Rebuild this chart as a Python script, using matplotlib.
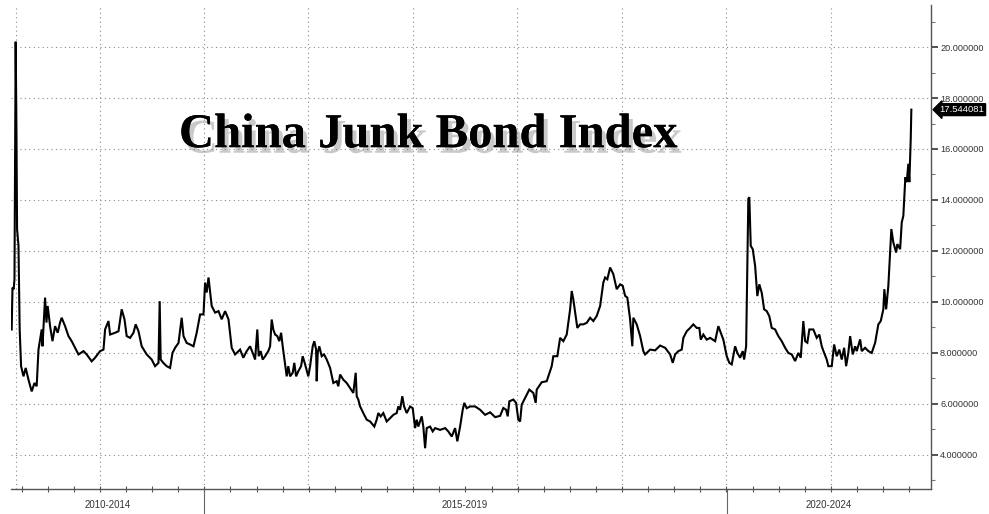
import matplotlib
matplotlib.use("Agg")
import matplotlib.pyplot as plt
import matplotlib.patheffects as pe
import matplotlib.transforms as mtransforms
import numpy as np

# Index level; x is weeks since the start of the series
weeks = [
    0.0, 0.4, 1.0, 1.4, 2.0, 2.4, 2.7, 3.4, 4.0, 4.7, 5.9, 7.0, 8.4, 10.0, 11.4, 12.5,
    13.4, 15.0, 15.4, 16.7, 17.4, 18.0, 19.2, 20.4, 21.7, 23.0, 24.2, 25.0, 26.7, 28.4,
    30.0, 31.7, 33.4, 35.9, 37.5, 40.0, 41.7, 44.2, 45.9, 46.7, 48.4, 49.2, 51.7, 53.4,
    55.0, 56.4, 57.5, 59.2, 60.9, 62.0, 63.4, 65.0, 67.5, 70.0, 71.7, 73.4, 74.0, 74.5,
    75.8, 77.5, 79.2, 80.4, 81.7, 83.4, 85.0, 85.9, 87.5, 89.2, 90.9, 92.5, 94.2, 95.9,
    96.7, 97.5, 98.4, 100.0, 101.7, 103.4, 105.0, 106.7, 108.4, 110.0, 111.7, 113.4,
    114.2, 115.8, 117.5, 119.2, 120.8, 121.7, 122.8, 123.5, 124.5, 125.5, 126.7, 128.3,
    129.2, 130.0, 130.8, 131.7, 132.8, 133.8, 134.7, 135.5, 136.7, 137.5, 138.3, 139.2,
    140.5, 141.3, 142.2, 143.3, 144.7, 145.5, 146.7, 148.3, 149.2, 150.5, 151.3, 152.2,
    152.5, 153.0, 153.8, 155.0, 156.2, 157.5, 159.2, 160.8, 162.5, 163.3, 164.2, 165.8,
    167.5, 169.2, 170.8, 172.0, 172.5, 173.3, 174.2, 175.8, 177.5, 179.2, 181.3, 182.5,
    183.3, 184.5, 185.8, 187.5, 189.2, 190.8, 192.5, 193.3, 194.2, 195.3, 196.2, 197.5,
    199.2, 200.5, 201.7, 202.5, 203.3, 205.0, 205.8, 206.7, 207.5, 209.2, 210.5, 211.7,
    214.2, 216.7, 218.3, 220.0, 221.7, 222.8, 224.2, 225.5, 226.3, 227.5,
    229.2, 231.7, 234.2, 236.7, 239.2, 241.7, 244.2, 245.8, 247.2, 248.0, 248.8, 250.8,
    252.2, 253.3, 254.2, 255.0, 256.7, 258.8, 260.8, 262.0, 262.5, 265.0, 267.5, 270.0,
    270.8, 272.8, 274.2, 275.8, 277.5, 279.2, 280.0, 280.8, 282.2, 282.8, 284.2, 285.8,
    287.5, 289.2, 290.8, 292.5, 294.2, 295.8, 296.7, 297.8, 299.2, 300.8, 302.5, 304.2,
    305.5, 306.7, 307.8, 309.2, 310.3, 310.8, 312.5, 314.2, 315.8, 316.7, 319.2, 321.7,
    324.2, 326.7, 329.2, 330.5, 331.7, 333.3, 335.0, 335.8, 337.5, 339.2, 340.8, 342.5,
    343.8, 344.5, 345.8, 347.5, 349.2, 351.7, 353.3, 354.5, 355.8,
    357.5, 358.8, 360.0, 361.7, 362.8, 364.2, 365.5, 366.2, 367.2, 368.3, 368.8, 369.5,
    370.5, 371.7, 372.8, 373.8, 375.0, 376.2, 377.5, 378.8, 380.0, 381.7, 383.3, 385.0,
    386.7, 388.3, 390.0, 391.7, 393.3, 394.5, 395.8, 396.7, 397.8, 398.8, 400.8, 402.5,
    403.8, 405.0, 406.2, 407.5, 408.3, 410.0, 411.2, 412.5, 413.8, 415.0, 416.2, 417.2,
    418.3, 419.2, 420.5, 421.7, 422.5, 424.2, 425.0, 426.7, 428.3, 430.0, 431.7, 433.3,
    434.5, 435.8, 436.3, 437.2, 438.3, 439.2, 439.8, 440.8, 442.2, 442.8, 444.2, 445.0,
    445.8, 446.8, 447.5, 448.3, 448.8, 449.5, 449.8,
]
index_level = [
    8.92, 10.56, 10.50, 10.89, 20.21, 16.53, 12.86, 12.20, 8.92, 7.48, 7.08, 7.41, 6.95, 6.49, 6.82, 6.69,
    8.13, 8.92, 8.26, 10.17, 9.19, 9.84, 9.05, 8.46, 9.05, 8.79, 9.19, 9.38, 9.05, 8.66,
    8.46, 8.20, 7.94, 8.07, 7.94, 7.67, 7.81, 8.07, 8.13, 8.92, 9.25, 8.72, 8.79, 8.85,
    9.71, 9.32, 8.66, 8.59, 8.79, 9.12, 8.85, 8.26, 7.94, 7.74, 7.48, 7.61, 10.03, 7.74,
    7.61, 7.48, 7.41, 8.00, 8.20, 8.39, 9.38, 8.66, 8.39, 8.33, 8.26, 8.79, 9.51, 9.51,
    10.76, 10.37, 10.96, 9.84, 9.58, 9.64, 9.32, 9.64, 9.32, 8.20, 7.94, 8.07,
    8.13, 7.81, 8.07, 8.26, 7.94, 7.74, 8.92, 7.87, 8.07, 7.74, 7.87, 8.07,
    8.26, 9.31, 8.92, 8.72, 8.66, 8.46, 8.79, 8.26, 7.55, 7.08, 7.48, 7.08,
    7.22, 7.61, 7.08, 7.28, 7.48, 7.87, 7.55, 7.08, 7.48, 8.26, 8.46, 8.13,
    6.89, 8.00, 8.26, 7.87, 7.94, 7.74, 7.41, 6.82, 6.89, 6.69, 7.15, 6.95,
    6.82, 6.62, 6.43, 7.22, 6.30, 6.17, 5.90, 5.64, 5.38, 5.31, 5.11, 5.38,
    5.64, 5.51, 5.64, 5.31, 5.44, 5.57, 5.64, 5.90, 5.77, 6.30, 5.90, 5.64,
    5.90, 5.83, 5.05, 5.38, 5.11, 5.51, 5.11, 4.26, 5.05, 5.11, 4.92, 5.05,
    4.98, 5.05, 4.92, 4.72, 5.05, 4.53, 5.11, 5.77, 6.04, 5.83,
    5.90, 5.90, 5.77, 5.57, 5.67, 5.48, 5.53, 5.84, 5.77, 5.51, 6.10, 6.17,
    6.04, 5.38, 5.31, 5.97, 6.23, 6.56, 6.43, 6.04, 6.56, 6.85, 6.89, 7.48,
    7.87, 7.87, 8.59, 8.46, 8.72, 9.71, 10.43, 10.10, 9.31, 8.98, 9.12, 9.12,
    9.18, 9.38, 9.25, 9.45, 9.84, 10.76, 10.96, 10.89, 11.35, 11.09, 10.50, 10.69,
    10.63, 10.24, 10.17, 9.31, 8.26, 9.38, 9.12, 8.66, 8.07, 7.94, 8.13, 8.10,
    8.29, 8.20, 7.94, 7.61, 7.94, 8.07, 8.13, 8.59, 8.85, 8.98, 9.12, 8.98,
    8.98, 8.52, 8.72, 8.52, 8.59, 8.46, 9.05, 8.79, 8.52,
    7.87, 7.61, 7.55, 8.26, 8.00, 7.81, 8.07, 7.74, 8.26, 14.04, 14.11, 12.20,
    12.07, 11.41, 10.23, 10.69, 10.36, 9.71, 9.64, 9.44, 8.98, 8.92, 8.66, 8.46,
    8.20, 8.00, 7.94, 7.68, 8.00, 7.81, 9.25, 8.46, 8.40, 8.92, 8.92, 8.59,
    8.72, 8.26, 8.00, 7.74, 7.48, 7.48, 8.33, 7.87, 8.13, 7.74, 8.20, 7.48,
    8.00, 8.66, 7.94, 8.26, 8.07, 8.53, 8.07, 8.20, 8.07, 8.00, 8.40, 9.12,
    9.25, 9.71, 10.50, 9.71, 10.63, 11.94, 12.86, 12.33, 11.94, 12.27, 12.07, 13.12,
    13.38, 14.89, 14.70, 15.42, 14.70, 16.41, 17.544081,
]

# Axis decorations
year_grid = [2.15, 44.15, 96.15, 148.4, 200.6, 252.8, 305.0, 357.2, 409.4]
period_breaks = [96.15, 357.65]
period_labels = ["2010-2014", "2015-2019", "2020-2024"]
period_centers = [48.0, 226.7, 408.5]
y_major = np.arange(4, 21, 2)
y_minor = np.arange(3, 22, 2)

fig = plt.figure(figsize=(9.89, 5.14), dpi=100)
ax = fig.add_axes([0.0111, 0.0486, 0.9303, 0.9417])

ax.plot(weeks, index_level, color="black", linewidth=1.5, solid_joinstyle="miter")

ax.set_xlim(-0.35, 459.65)
ax.set_ylim(2.66, 21.65)

# dotted grid
grid_kw = dict(color="#8a8a8a", linewidth=0.8, linestyle=(0, (1, 3)), zorder=0)
for g in year_grid:
    ax.axvline(g, **grid_kw)
for v in y_major:
    ax.axhline(v, **grid_kw)

# spines
for s in ["top", "left"]:
    ax.spines[s].set_visible(False)
ax.spines["right"].set_color("#555555")
ax.spines["bottom"].set_color("#555555")
ax.spines["right"].set_linewidth(1.0)
ax.spines["bottom"].set_linewidth(1.0)

# right y axis
ax.yaxis.tick_right()
ax.set_yticks(y_major)
ax.set_yticks(y_minor, minor=True)
ax.set_yticklabels([f"{v:.6f}" for v in y_major])
ax.tick_params(axis="y", which="major", length=5, width=1.2, color="#333333",
               labelsize=6.6, labelcolor="#333333", pad=1.5)
ax.tick_params(axis="y", which="minor", length=3, width=0.8, color="#777777")
for lbl in ax.get_yticklabels():
    lbl.set_family("Liberation Sans")

# bottom quarterly ticks, no labels
q_ticks = np.arange(44.15 - 3 * 13.05, 459, 13.05)
ax.set_xticks(q_ticks)
ax.set_xticklabels([])
ax.tick_params(axis="x", which="major", direction="inout", length=5, width=0.8, color="#555555")

# period separators and labels below the axis
trans = mtransforms.blended_transform_factory(ax.transData, ax.transAxes)
for b in period_breaks:
    ax.plot([b, b], [0, -0.06], transform=trans, color="#666666", linewidth=0.8, clip_on=False)
for c, lab in zip(period_centers, period_labels):
    ax.text(c, -0.033, lab, transform=trans, ha="center", va="center",
            fontsize=6.9, color="#333333", family="Liberation Sans")

# last value tag
last = index_level[-1]
ax.annotate(f"{last:.6f}", xy=(1.0, last), xycoords=("axes fraction", "data"),
            xytext=(6, 0), textcoords="offset points", ha="left", va="center",
            fontsize=6.8, color="white", family="Liberation Sans",
            bbox=dict(boxstyle="larrow,pad=0.15", fc="black", ec="black"))

# title with drop shadow
ax.text(0.433, 0.737, "China Junk Bond Index", transform=fig.transFigure,
        ha="center", va="center", fontsize=35, fontweight="bold",
        family="Liberation Serif", color="black",
        path_effects=[pe.withSimplePatchShadow(offset=(3, -4), shadow_rgbFace="#666666", alpha=0.35),
                      pe.Normal()])

fig.savefig("out.png", dpi=100)
